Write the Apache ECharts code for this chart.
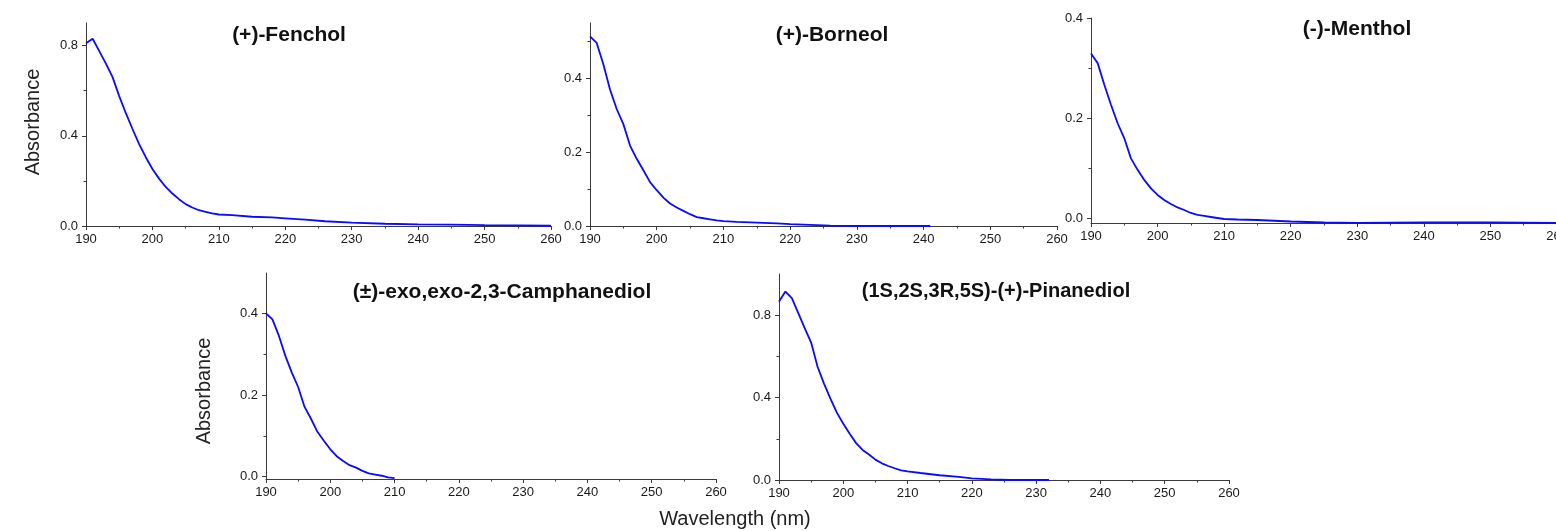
<!DOCTYPE html>
<html>
<head>
<meta charset="utf-8">
<script src="https://cdn.jsdelivr.net/npm/echarts@6/dist/echarts.min.js"></script>
<style>
html, body { margin: 0; padding: 0; background: #fff; }
#chart { width: 1556px; height: 531px; }
</style>
</head>
<body>
<div id="chart"></div>
<script>
// wavelength (nm) / absorbance
var fencholWl = [190,191,192,193,194,195,196,197,198,199,200,201,202,203,204,205,206,207,208,209,210,212,215,218,220,223,226,230,235,240,245,250,255,260];
var fencholAbs = [0.81,0.83,0.775,0.72,0.66,0.576,0.50,0.43,0.363,0.305,0.253,0.21,0.173,0.144,0.119,0.097,0.082,0.07,0.063,0.056,0.051,0.048,0.041,0.038,0.034,0.028,0.021,0.015,0.01,0.007,0.006,0.004,0.003,0.001];

var borneolWl = [190,191,192,193,194,195,196,197,198,199,200,201,202,203,204,205,206,207,208,209,210,212,215,218,220,223,226,230,235,241];
var borneolAbs = [0.514,0.496,0.438,0.37,0.317,0.276,0.218,0.182,0.151,0.119,0.097,0.077,0.061,0.05,0.041,0.032,0.024,0.021,0.018,0.015,0.013,0.011,0.009,0.007,0.005,0.003,0.001,0,0,0];

var mentholWl = [190,191,192,193,194,195,196,197,198,199,200,201,202,203,204,205,206,207,208,209,210,212,215,220,225,230,240,250,260];
var mentholAbs = [0.329,0.31,0.267,0.227,0.19,0.16,0.12,0.097,0.077,0.06,0.047,0.037,0.029,0.022,0.017,0.011,0.007,0.005,0.003,0.001,-0.001,-0.002,-0.003,-0.006,-0.008,-0.009,-0.008,-0.008,-0.009];

var camphWl = [190,191,192,193,194,195,196,197,198,199,200,201,202,203,204,205,206,207,208,209,210];
var camphAbs = [0.401,0.386,0.346,0.297,0.256,0.22,0.171,0.142,0.11,0.088,0.067,0.05,0.038,0.028,0.022,0.014,0.008,0.005,0.002,-0.002,-0.004];

var pinaneWl = [190,191,192,193,194,195,196,197,198,199,200,201,202,203,204,205,206,207,208,209,210,212,215,218,220,223,226,229,232];
var pinaneAbs = [0.867,0.915,0.883,0.81,0.737,0.667,0.55,0.468,0.395,0.327,0.273,0.224,0.179,0.146,0.124,0.099,0.081,0.068,0.057,0.047,0.042,0.034,0.023,0.015,0.008,0.003,0,0,0];

// y tick labels (major) and minor ticks
var ticksA = [0, 0.4, 0.8];
var minorA = [0.2, 0.6];
var ticksB = [0, 0.2, 0.4];
var minorB = [0.1, 0.3, 0.5];
var minorC = [0.1, 0.3];

var FONT = "'Liberation Sans', Arial, sans-serif";
var axisColor = '#3a3a3a';

var panels = [
    { name: '(+)-Fenchol', wl: fencholWl, abs: fencholAbs, ticks: ticksA, minor: minorA, yMin: 0, yMax: 0.9,
      grid: { left: 86, top: 23, width: 465, height: 203 }, title: [289, 35, 21] },
    { name: '(+)-Borneol', wl: borneolWl, abs: borneolAbs, ticks: ticksB, minor: minorB, yMin: 0, yMax: 0.55,
      grid: { left: 590, top: 23, width: 467, height: 203 }, title: [832, 35, 21] },
    { name: '(-)-Menthol', wl: mentholWl, abs: mentholAbs, ticks: ticksB, minor: minorC, yMin: -0.009, yMax: 0.4,
      grid: { left: 1091, top: 18, width: 466, height: 205 }, title: [1357, 29, 21] },
    { name: '(\u00b1)-exo,exo-2,3-Camphanediol', wl: camphWl, abs: camphAbs, ticks: ticksB, minor: minorC, yMin: -0.006, yMax: 0.5,
      grid: { left: 266, top: 273, width: 450, height: 206 }, title: [502, 292, 21] },
    { name: '(1S,2S,3R,5S)-(+)-Pinanediol', wl: pinaneWl, abs: pinaneAbs, ticks: ticksA, minor: minorA, yMin: 0, yMax: 1.0,
      grid: { left: 779, top: 274, width: 450, height: 206 }, title: [996, 291, 20] }
];

var grids = [], xAxes = [], yAxes = [], series = [], graphics = [];

panels.forEach(function (p, i) {
    // keep the grid exactly where it is put, even if labels run off the page
    grids.push(Object.assign({ outerBoundsMode: 'none', containLabel: false }, p.grid));

    xAxes.push({
        gridIndex: i, type: 'value', position: 'bottom',
        min: 190, max: 260, interval: 10,
        axisLine: { onZero: false, lineStyle: { color: axisColor, width: 1 } },
        axisTick: { length: 4, lineStyle: { color: axisColor } },
        minorTick: { show: true, splitNumber: 2, length: 2.5, lineStyle: { color: axisColor } },
        axisLabel: { margin: 7, color: '#1a1a1a', fontSize: 13, fontFamily: FONT, hideOverlap: false },
        splitLine: { show: false }
    });

    // main y axis: line, major ticks, labels
    yAxes.push({
        gridIndex: i, type: 'value', position: 'left',
        min: p.yMin, max: p.yMax,
        axisLine: { show: true, onZero: false, lineStyle: { color: axisColor, width: 1 } },
        axisTick: { show: true, length: 4, customValues: p.ticks, lineStyle: { color: axisColor } },
        axisLabel: {
            customValues: p.ticks, margin: 8, color: '#1a1a1a', fontSize: 13, fontFamily: FONT,
            formatter: function (v) { return Math.abs(v) < 1e-9 ? '0.0' : v.toFixed(1); }
        },
        splitLine: { show: false }
    });
    // overlay axis only for the minor ticks
    yAxes.push({
        gridIndex: i, type: 'value', position: 'left',
        min: p.yMin, max: p.yMax,
        axisLine: { show: false, onZero: false },
        axisTick: { show: true, length: 2.5, customValues: p.minor, lineStyle: { color: axisColor } },
        axisLabel: { show: false },
        splitLine: { show: false }
    });

    series.push({
        type: 'line',
        xAxisIndex: i,
        yAxisIndex: 2 * i,
        data: p.wl.map(function (w, k) { return [w, p.abs[k]]; }),
        showSymbol: false,
        symbol: 'none',
        lineStyle: { color: '#0a0aff', width: 1.8 },
        silent: true
    });

    graphics.push({
        type: 'text', x: p.title[0], y: p.title[1],
        style: {
            text: p.name, fill: '#111', fontFamily: FONT, fontWeight: 'bold', fontSize: p.title[2],
            textAlign: 'center', textVerticalAlign: 'middle'
        }
    });
});

// axis names
graphics.push({
    type: 'text', x: 33, y: 122, rotation: Math.PI / 2,
    style: { text: 'Absorbance', fill: '#222', fontFamily: FONT, fontSize: 20, textAlign: 'center', textVerticalAlign: 'middle' }
});
graphics.push({
    type: 'text', x: 204, y: 391, rotation: Math.PI / 2,
    style: { text: 'Absorbance', fill: '#222', fontFamily: FONT, fontSize: 20, textAlign: 'center', textVerticalAlign: 'middle' }
});
graphics.push({
    type: 'text', x: 735, y: 519,
    style: { text: 'Wavelength (nm)', fill: '#222', fontFamily: FONT, fontSize: 20, textAlign: 'center', textVerticalAlign: 'middle' }
});

var chart = echarts.init(document.getElementById('chart'));
chart.setOption({
    backgroundColor: '#ffffff',
    animation: false,
    grid: grids,
    xAxis: xAxes,
    yAxis: yAxes,
    series: series,
    graphic: graphics
});
</script>
</body>
</html>
